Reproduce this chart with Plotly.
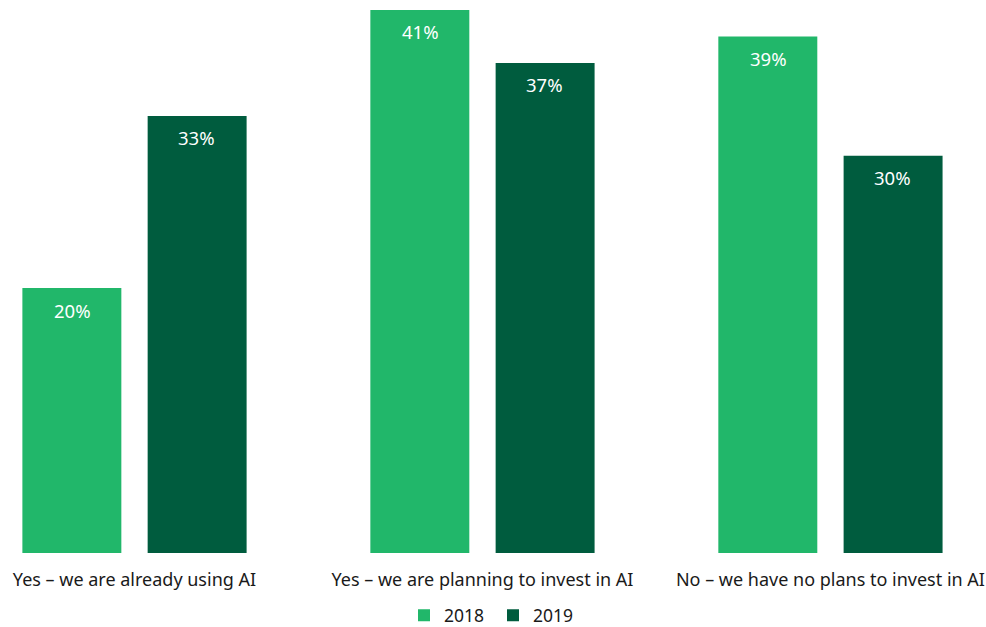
import plotly.graph_objects as go

categories = ["Yes – we are already using AI", "Yes – we are planning to invest in AI", "No – we have no plans to invest in AI"]
series_names = ["2018", "2019"]
values_2018 = [20, 41, 39]
values_2019 = [33, 37, 30]

colors = ["#21B76A", "#005C3E"]
font_family = "Noto Sans, Lato, sans-serif"

fig = go.Figure()
for name, vals, col in zip(series_names, [values_2018, values_2019], colors):
    fig.add_trace(go.Bar(x=categories, y=vals, name=name, marker=dict(color=col, line=dict(width=0)),
                         hoverinfo="skip"))

# value labels inside bar tops
offsets = [-62, 62]
for vals, dx in zip([values_2018, values_2019], offsets):
    for c, v in zip(categories, vals):
        fig.add_annotation(x=c, y=v, text=f"{v}%", showarrow=False, xshift=dx, yshift=-22,
                           font=dict(color="white", size=18.5, family=font_family))

fig.update_layout(
    width=986, height=627,
    margin=dict(l=0, r=0, t=0, b=74, autoexpand=False),
    paper_bgcolor="white", plot_bgcolor="white",
    barmode="group", bargap=0.28, bargroupgap=0.21,
    font=dict(family=font_family, size=18, color="#1a1a1a"),
    xaxis=dict(range=[-0.3865, 2.447], showgrid=False, showline=False, zeroline=False, ticks="",
               tickfont=dict(size=18), automargin=False, ticklabelstandoff=14),
    yaxis=dict(range=[0, 41.75], visible=False, automargin=False),
    legend=dict(orientation="h", x=0.5, xanchor="center", y=-0.113, yanchor="middle",
                font=dict(size=17.5), itemwidth=30, traceorder="normal", entrywidth=44),
    showlegend=True,
)

fig.write_html("out.html", config={"displayModeBar": False},
               post_script="document.body.style.margin='0';document.body.style.overflow='hidden';")
